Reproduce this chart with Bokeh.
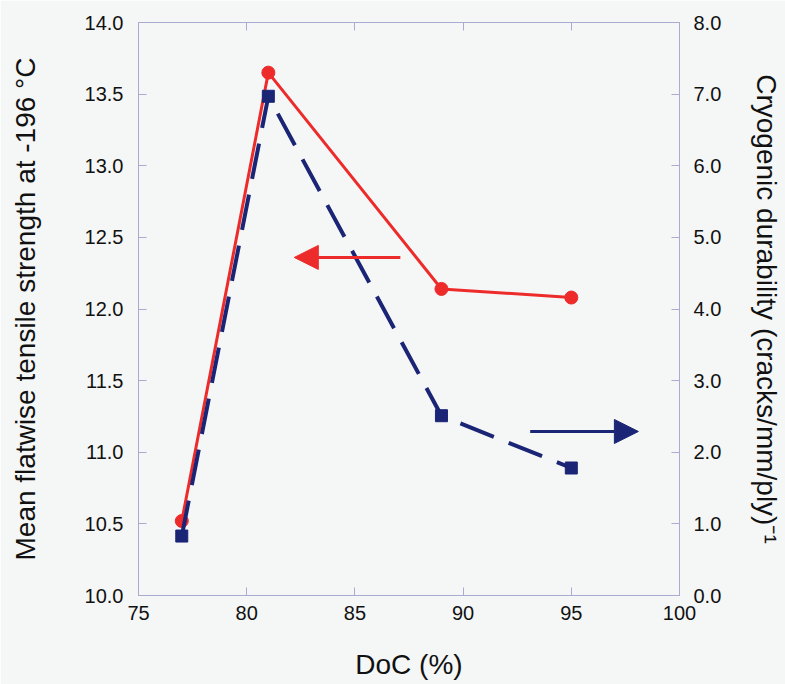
from bokeh.plotting import figure
from bokeh.models import (Range1d, LinearAxis, NumeralTickFormatter, FixedTicker, Arrow,
                          NormalHead, CustomJSTickFormatter)
from bokeh.embed import file_html
from bokeh.resources import INLINE

# Data
doc = [77, 81, 89, 95]
strength = [10.52, 13.65, 12.14, 12.08]      # left axis
durability = [0.83, 6.97, 2.51, 1.78]        # right axis

x_ticks = [75, 80, 85, 90, 95, 100]
left_ticks = [10.0, 10.5, 11.0, 11.5, 12.0, 12.5, 13.0, 13.5, 14.0]
right_ticks = [0, 1, 2, 3, 4, 5, 6, 7, 8]

# annotation arrows (data coords)
red_arrow = dict(x_start=87.1, x_end=82.2, y=12.36)
blue_arrow = dict(x_start=93.1, x_end=98.1, y=2.29)

BG = "#f5f6f6"
FRAME = "#a9abd0"
RED = "#ee2b2b"
BLUE = "#1b2576"
FONT = "Liberation Sans"

p = figure(width=785, height=684, output_backend="svg", toolbar_location=None,
           x_range=Range1d(75, 100), y_range=Range1d(10.0, 14.0),
           min_border_left=138, min_border_right=103, min_border_top=22, min_border_bottom=89,
           background_fill_color=BG, border_fill_color=BG)
p.extra_y_ranges = {"right": Range1d(0, 8)}
p.grid.visible = False
p.outline_line_color = FRAME
p.outline_line_width = 1

# red series
p.line(doc, strength, line_color=RED, line_width=3)
p.scatter(doc, strength, marker="circle", size=13, fill_color=RED, line_color=RED)

# blue series
p.line(doc, durability, y_range_name="right", line_color=BLUE, line_width=4, line_dash="36 16")
p.scatter(doc, durability, y_range_name="right", marker="square", size=12,
          fill_color=BLUE, line_color=BLUE)

p.add_layout(Arrow(end=NormalHead(size=24, fill_color=RED, line_color=RED),
                   x_start=red_arrow["x_start"], y_start=red_arrow["y"],
                   x_end=red_arrow["x_end"], y_end=red_arrow["y"],
                   line_color=RED, line_width=3))
p.add_layout(Arrow(end=NormalHead(size=24, fill_color=BLUE, line_color=BLUE),
                   x_start=blue_arrow["x_start"], y_start=blue_arrow["y"],
                   x_end=blue_arrow["x_end"], y_end=blue_arrow["y"],
                   y_range_name="right", line_color=BLUE, line_width=3))

def style(ax, standoff, label_standoff):
    ax.axis_line_color = FRAME
    ax.major_tick_line_color = FRAME
    ax.major_tick_in = 8
    ax.major_tick_out = 0
    ax.minor_tick_line_color = None
    ax.major_label_text_font = FONT
    ax.major_label_text_font_size = "20px"
    ax.major_label_text_color = "#111111"
    ax.major_label_standoff = standoff
    ax.axis_label_text_font = FONT
    ax.axis_label_text_font_size = "28px"
    ax.axis_label_text_font_style = "normal"
    ax.axis_label_text_color = "#111111"
    ax.axis_label_standoff = label_standoff

# bottom x axis
xa = p.xaxis[0]
xa.ticker = FixedTicker(ticks=x_ticks)
xa.axis_label = "DoC (%)"
style(xa, 10, 26)

# left axis
ya = p.yaxis[0]
ya.ticker = FixedTicker(ticks=left_ticks)
ya.formatter = NumeralTickFormatter(format="0.0")
ya.axis_label = "Mean flatwise tensile strength at -196 °C"
style(ya, 15, 41)

# right axis
ra = LinearAxis(y_range_name="right", ticker=FixedTicker(ticks=right_ticks),
                formatter=NumeralTickFormatter(format="0.0"),
                axis_label="Cryogenic durability (cracks/mm/ply)⁻¹")
style(ra, 14, 27)
p.add_layout(ra, "right")

# top axis (ticks only)
ta = LinearAxis(ticker=FixedTicker(ticks=x_ticks),
                formatter=CustomJSTickFormatter(code="return ''"))
style(ta, 0, 0)
p.add_layout(ta, "above")

open("out.html", "w").write(file_html(p, INLINE))
